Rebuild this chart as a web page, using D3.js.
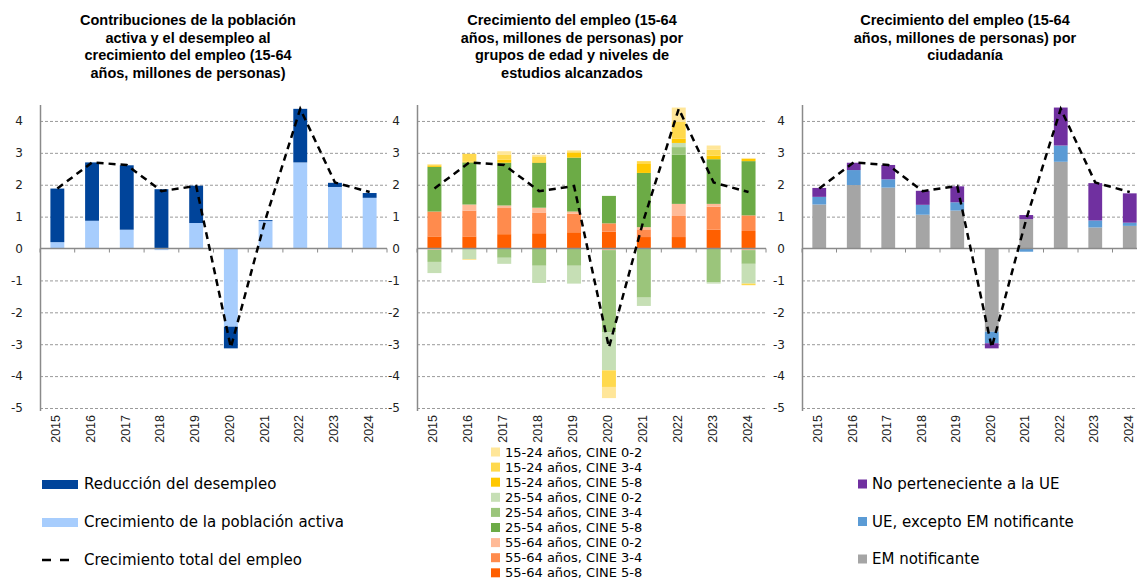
<!DOCTYPE html>
<html>
<head>
<meta charset="utf-8">
<script src="https://cdn.jsdelivr.net/npm/d3@7"></script>
<style>
  body { margin: 0; background: #fff; }
  svg { display: block; }
</style>
</head>
<body>
<svg id="chart" width="1137" height="580"></svg>
<script>
var years = ["2015", "2016", "2017", "2018", "2019", "2020", "2021", "2022", "2023", "2024"];
var yTicks = [-5, -4, -3, -2, -1, 0, 1, 2, 3, 4];

// total employment growth (dashed line, same in the three panels)
var crecimientoTotal = [1.88, 2.70, 2.62, 1.80, 1.96, -3.10, 0.92, 4.38, 2.07, 1.77];

// panel 1
var crecimientoPoblacionActiva = [0.20, 0.87, 0.59, -0.05, 0.80, -2.45, 0.86, 2.70, 1.93, 1.59];
var reduccionDesempleo = [1.68, 1.83, 2.02, 1.86, 1.17, -0.68, 0.03, 1.68, 0.13, 0.15];

// panel 2 (age groups x education)
var e5564_58 = [0.38, 0.38, 0.45, 0.48, 0.51, 0.53, 0.36, 0.36, 0.59, 0.55];
var e5564_34 = [0.78, 0.81, 0.82, 0.65, 0.58, 0.26, 0.24, 0.66, 0.72, 0.49];
var e5564_02 = [-0.04, 0.19, 0.08, 0.15, 0.07, -0.05, 0.07, 0.38, 0.09, -0.05];
var e2554_58 = [1.40, 1.32, 1.34, 1.41, 1.69, 0.86, 1.70, 1.54, 1.40, 1.70];
var e2554_34 = [-0.38, 0.00, -0.29, -0.54, -0.54, -2.57, -1.54, 0.24, -1.06, -0.43];
var e2554_02 = [-0.35, -0.33, -0.19, -0.54, -0.56, -1.20, -0.26, 0.13, -0.04, -0.62];
var e1524_58 = [0.03, 0.02, 0.10, 0.02, 0.15, 0.00, 0.28, 0.14, 0.11, 0.07];
var e1524_34 = [0.04, 0.25, 0.16, 0.18, 0.05, -0.52, 0.09, 0.52, 0.19, -0.05];
var e1524_02 = [0.02, -0.03, 0.10, 0.05, 0.03, -0.35, 0.00, 0.45, 0.13, 0.03];

// panel 3 (citizenship)
var emNotificante = [1.38, 1.99, 1.91, 1.06, 1.19, -2.61, 0.92, 2.72, 0.66, 0.71];
var ueExceptoEM = [0.24, 0.47, 0.26, 0.31, 0.26, -0.36, -0.10, 0.51, 0.22, 0.10];
var noUE = [0.28, 0.23, 0.45, 0.44, 0.50, -0.16, 0.13, 1.19, 1.17, 0.92];

var svg = d3.select("#chart");

var y = d3.scaleLinear()
  .domain([-5, 4.5])
  .range([408, 105]);

var panels = [
  {
    left: 40,
    width: 347,
    title: ["Contribuciones de la población", "activa y el desempleo al", "crecimiento del empleo (15-64", "años, millones de personas)"],
    titleX: 188,
    series: [
      { name: "Crecimiento de la población activa", values: crecimientoPoblacionActiva, color: "#a7cdfd" },
      { name: "Reducción del desempleo", values: reduccionDesempleo, color: "#00449a" }
    ]
  },
  {
    left: 417,
    width: 349,
    title: ["Crecimiento del empleo (15-64", "años, millones de personas) por", "grupos de edad y niveles de", "estudios alcanzados"],
    titleX: 572,
    series: [
      { name: "55-64 años, CINE 5-8", values: e5564_58, color: "#ff5f00" },
      { name: "55-64 años, CINE 3-4", values: e5564_34, color: "#ff8b4d" },
      { name: "55-64 años, CINE 0-2", values: e5564_02, color: "#ffba97" },
      { name: "25-54 años, CINE 5-8", values: e2554_58, color: "#6cab46" },
      { name: "25-54 años, CINE 3-4", values: e2554_34, color: "#9bc57b" },
      { name: "25-54 años, CINE 0-2", values: e2554_02, color: "#c6dfb5" },
      { name: "15-24 años, CINE 5-8", values: e1524_58, color: "#ffc800" },
      { name: "15-24 años, CINE 3-4", values: e1524_34, color: "#ffd94d" },
      { name: "15-24 años, CINE 0-2", values: e1524_02, color: "#ffe699" }
    ]
  },
  {
    left: 802,
    width: 345,
    title: ["Crecimiento del empleo (15-64", "años, millones de personas) por", "ciudadanía"],
    titleX: 965,
    series: [
      { name: "EM notificante", values: emNotificante, color: "#a5a5a5" },
      { name: "UE, excepto EM notificante", values: ueExceptoEM, color: "#5b9bd5" },
      { name: "No perteneciente a la UE", values: noUE, color: "#7030a0" }
    ]
  }
];

panels.forEach(function(p) {
  drawPanel(p);
});

function drawPanel(p) {
  var width = p.width;
  var x = d3.scaleBand()
    .domain(years)
    .range([p.left, p.left + width])
    .paddingInner(0.6)
    .paddingOuter(0.3);

  var g = svg.append("g");

  // title
  g.append("text")
    .attr("x", p.titleX)
    .attr("y", 25)
    .attr("text-anchor", "middle")
    .style("font-family", "'Liberation Sans', Arial, sans-serif")
    .style("font-weight", "700")
    .style("font-size", "14.5px")
    .style("fill", "#000")
    .selectAll("tspan")
    .data(p.title)
    .enter()
    .append("tspan")
    .attr("x", p.titleX)
    .attr("dy", function(d, i) { return i == 0 ? 0 : 17.5; })
    .text(function(d) { return d; });

  // grid
  g.selectAll("line.grid")
    .data(yTicks.filter(function(t) { return t != 0; }))
    .enter()
    .append("line")
    .attr("class", "grid")
    .attr("x1", p.left)
    .attr("x2", p.left + width)
    .attr("y1", function(d) { return y(d) + 0.5; })
    .attr("y2", function(d) { return y(d) + 0.5; })
    .attr("stroke", "#9a9a9a")
    .attr("stroke-width", 1)
    .attr("stroke-dasharray", "3,2");

  // y axis
  var yAxis = d3.axisLeft(y)
    .tickValues(yTicks)
    .tickSize(0)
    .tickPadding(17)
    .tickFormat(function(d) { return String(d); });

  var ya = g.append("g")
    .attr("transform", "translate(" + p.left + ",0)")
    .call(yAxis);
  ya.select(".domain").remove();
  ya.selectAll("text")
    .style("font-family", "'DejaVu Sans', sans-serif")
    .style("font-size", "12px")
    .style("fill", "#222");

  g.append("line")
    .attr("x1", p.left + 0.5)
    .attr("x2", p.left + 0.5)
    .attr("y1", 105)
    .attr("y2", 411)
    .attr("stroke", "#8a8a8a")
    .attr("stroke-width", 1.5);

  // bars
  var table = years.map(function(yr, i) {
    var row = { year: yr };
    p.series.forEach(function(s, k) { row["s" + k] = s.values[i]; });
    return row;
  });
  var stack = d3.stack()
    .keys(p.series.map(function(s, k) { return "s" + k; }))
    .offset(d3.stackOffsetDiverging);

  g.selectAll("g.layer")
    .data(stack(table))
    .enter()
    .append("g")
    .attr("class", "layer")
    .attr("fill", function(d, k) { return p.series[k].color; })
    .selectAll("rect")
    .data(function(d) { return d; })
    .enter()
    .append("rect")
    .attr("x", function(d) { return x(d.data.year); })
    .attr("width", x.bandwidth())
    .attr("y", function(d) { return y(Math.max(d[0], d[1])); })
    .attr("height", function(d) { return Math.abs(y(d[0]) - y(d[1])); });

  // zero axis with ticks between categories
  g.append("line")
    .attr("x1", p.left)
    .attr("x2", p.left + width)
    .attr("y1", y(0))
    .attr("y2", y(0))
    .attr("stroke", "#8a8a8a")
    .attr("stroke-width", 1.5);

  var bounds = d3.range(11).map(function(i) { return p.left + i * width / 10; });
  g.selectAll("line.xtick")
    .data(bounds)
    .enter()
    .append("line")
    .attr("class", "xtick")
    .attr("x1", function(d) { return d; })
    .attr("x2", function(d) { return d; })
    .attr("y1", y(0))
    .attr("y2", y(0) + 4)
    .attr("stroke", "#8a8a8a")
    .attr("stroke-width", 1);

  // year labels
  g.selectAll("text.year")
    .data(years)
    .enter()
    .append("text")
    .attr("class", "year")
    .attr("transform", function(d) {
      return "translate(" + (x(d) + x.bandwidth() / 2 + 3) + ",415) rotate(-90)";
    })
    .attr("text-anchor", "end")
    .style("font-family", "'Liberation Sans Narrow', 'Liberation Sans', sans-serif")
    .style("font-size", "12.5px")
    .style("fill", "#222")
    .text(function(d) { return d; });

  // total line
  var line = d3.line()
    .x(function(d, i) { return x(years[i]) + x.bandwidth() / 2; })
    .y(function(d) { return y(d); });

  g.append("path")
    .datum(crecimientoTotal)
    .attr("d", line)
    .attr("fill", "none")
    .attr("stroke", "#000")
    .attr("stroke-width", 2.5)
    .attr("stroke-dasharray", "7,5");
}

// legends
var legendFont = "'DejaVu Sans', sans-serif";

var leg1 = [
  { name: "Reducción del desempleo", color: "#00449a" },
  { name: "Crecimiento de la población activa", color: "#a7cdfd" },
  { name: "Crecimiento total del empleo", color: null }
];
var l1 = svg.append("g").selectAll("g")
  .data(leg1)
  .enter()
  .append("g")
  .attr("transform", function(d, i) { return "translate(42," + (484 + i * 38) + ")"; });
l1.filter(function(d) { return d.color; })
  .append("rect")
  .attr("x", 0)
  .attr("y", -4)
  .attr("width", 36)
  .attr("height", 9)
  .attr("fill", function(d) { return d.color; });
l1.filter(function(d) { return !d.color; })
  .append("line")
  .attr("x1", 0)
  .attr("x2", 36)
  .attr("y1", 0)
  .attr("y2", 0)
  .attr("stroke", "#000")
  .attr("stroke-width", 2.5)
  .attr("stroke-dasharray", "9,9");
l1.append("text")
  .attr("x", 42)
  .attr("y", 5)
  .style("font-family", legendFont)
  .style("font-size", "15px")
  .style("fill", "#000")
  .text(function(d) { return d.name; });

var leg2 = panels[1].series.slice().reverse();
var l2 = svg.append("g").selectAll("g")
  .data(leg2)
  .enter()
  .append("g")
  .attr("transform", function(d, i) { return "translate(491," + (452 + i * 15.1) + ")"; });
l2.append("rect")
  .attr("x", 0)
  .attr("y", -4.5)
  .attr("width", 9)
  .attr("height", 9)
  .attr("fill", function(d) { return d.color; });
l2.append("text")
  .attr("x", 14)
  .attr("y", 4.5)
  .style("font-family", legendFont)
  .style("font-size", "13px")
  .style("fill", "#000")
  .text(function(d) { return d.name; });

var leg3 = panels[2].series.slice().reverse();
var l3 = svg.append("g").selectAll("g")
  .data(leg3)
  .enter()
  .append("g")
  .attr("transform", function(d, i) { return "translate(858," + (484 + i * 37.5) + ")"; });
l3.append("rect")
  .attr("x", 0)
  .attr("y", -4.5)
  .attr("width", 9)
  .attr("height", 9)
  .attr("fill", function(d) { return d.color; });
l3.append("text")
  .attr("x", 14)
  .attr("y", 5)
  .style("font-family", legendFont)
  .style("font-size", "15px")
  .style("fill", "#000")
  .text(function(d) { return d.name; });
</script>
</body>
</html>
